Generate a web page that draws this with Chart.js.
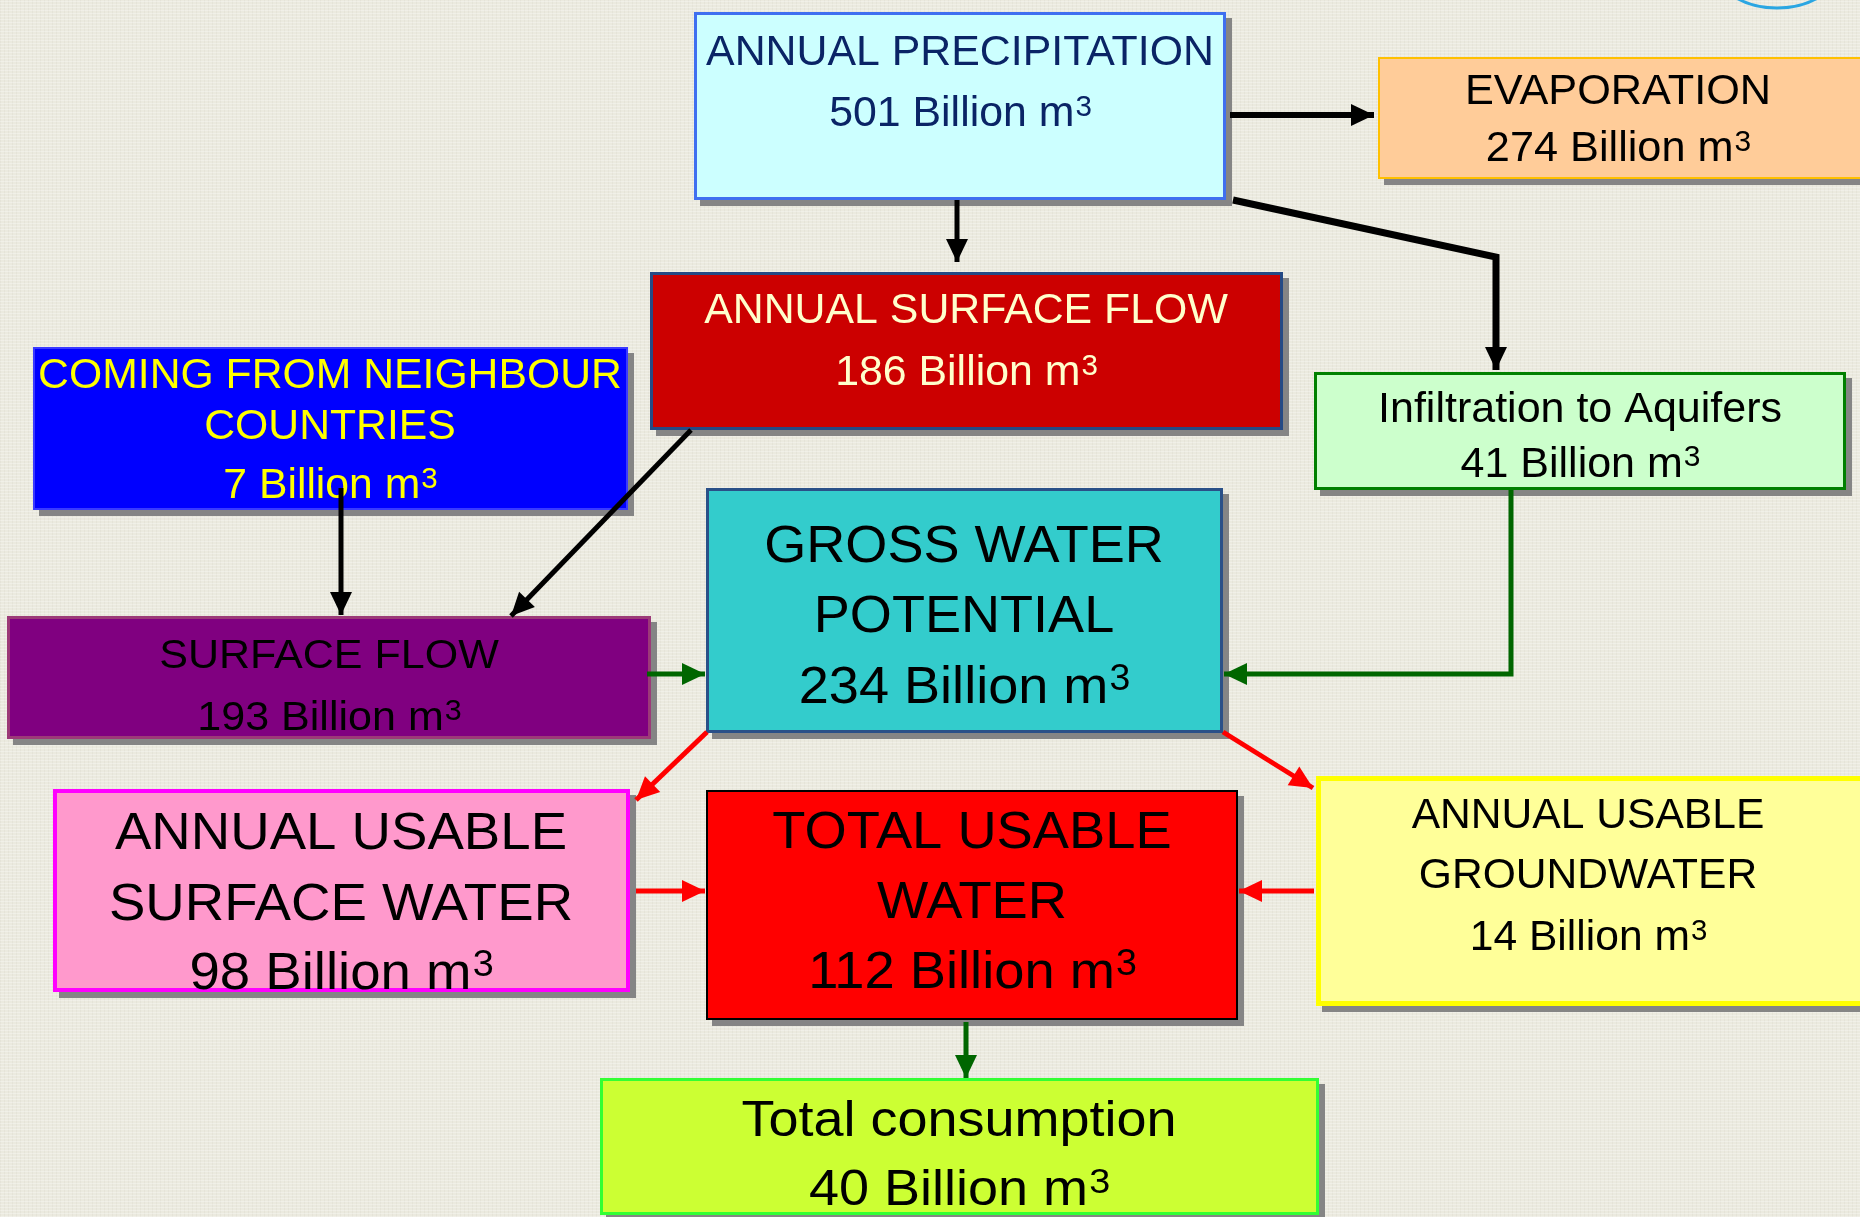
<!DOCTYPE html>
<html>
<head>
<meta charset="utf-8">
<script src="https://cdn.jsdelivr.net/npm/chart.js@4.4.1/dist/chart.umd.min.js"></script>
<style>
  html, body { margin: 0; padding: 0; overflow: hidden; }
  body {
    width: 1860px; height: 1217px;
    background-color: #ebeadf;
    background-image:
      repeating-linear-gradient(0deg, rgba(255,255,255,0.28) 0 1px, transparent 1px 3px),
      repeating-linear-gradient(90deg, rgba(120,110,90,0.05) 0 1px, transparent 1px 4px);
  }
  canvas { display: block; }
</style>
</head>
<body>
<canvas id="flow" width="1860" height="1217"></canvas>
<script>
// water budget values (Billion m3)
const boxLines = [
  ['ANNUAL PRECIPITATION'],
  ['EVAPORATION'],
  ['ANNUAL SURFACE FLOW'],
  ['COMING FROM NEIGHBOUR', 'COUNTRIES'],
  ['Infiltration to Aquifers'],
  ['GROSS WATER', 'POTENTIAL'],
  ['SURFACE FLOW'],
  ['ANNUAL USABLE', 'SURFACE WATER'],
  ['TOTAL USABLE', 'WATER'],
  ['ANNUAL USABLE', 'GROUNDWATER'],
  ['Total consumption']
]
const volumes = [501, 274, 186, 7, 41, 234, 193, 98, 112, 14, 40]
const unitLabel = 'Billion m'
const unitSup = '3'

// which box feeds which
const flowFrom = [0, 0, 0, 2, 3, 6, 4, 5, 5, 7, 9, 8]
const flowTo   = [1, 2, 4, 6, 6, 5, 5, 7, 9, 8, 8, 10]

// layout (canvas units) and styles
const boxRects = [
  [694, 12, 532, 188], [1378, 57, 500, 122], [650, 272, 633, 158],
  [33, 347, 595, 163], [1314, 372, 532, 118], [706, 488, 517, 245],
  [7, 616, 644, 123], [53, 789, 577, 203], [706, 790, 532, 230],
  [1316, 776, 560, 230], [600, 1078, 719, 137]
]
const boxFills = ['#ccffff', '#ffcc99', '#cc0000', '#0000ff', '#ccffcc', '#33cccc',
  '#800080', '#ff99cc', '#ff0000', '#ffff99', '#ccff33']
const boxBorders = ['#3f6ff0', '#ffc000', '#254a85', '#3a3aff', '#008000', '#2a5088',
  '#9c3a78', '#ff00ff', '#000000', '#ffff00', '#33ff33']
const borderWidths = [3, 2, 3, 2, 3, 3, 3, 4, 2, 5, 3]
const textColors = ['#0a2466', '#000000', '#ffffcc', '#ffff00', '#000000', '#000000',
  '#000000', '#000000', '#000000', '#000000', '#000000']
const fontSizes = [42, 42, 42, 42, 43, 52, 41, 52, 52, 42, 50]
const textStretch = [1.02, 1.03, 1.02, 1.017, 1.0, 1.04, 1.05, 1.05, 1.044, 1.014, 1.08]
const textCenters = [960, 1618, 966, 330, 1580, 964, 329, 341, 972, 1588, 959]
const textBaselines = [[65, 126], [104, 161], [323, 385], [388, 439, 498], [422, 477],
  [562, 632, 703], [668, 730], [849, 920, 989], [848, 918, 988], [828, 888, 950], [1136, 1205]]

const flowRoutes = [
  [[1230, 115], [1374, 115]],
  [[957, 200], [957, 262]],
  [[1233, 200], [1496, 257], [1496, 370]],
  [[691, 430], [511, 616]],
  [[341, 488], [341, 615]],
  [[647, 674], [705, 674]],
  [[1511, 490], [1511, 674], [1224, 674]],
  [[707, 732], [636, 800]],
  [[1223, 732], [1313, 788]],
  [[636, 891], [705, 891]],
  [[1314, 891], [1239, 891]],
  [[966, 1022], [966, 1078]]
]
const flowColors = ['#000000', '#000000', '#000000', '#000000', '#000000', '#006600',
  '#006600', '#ff0000', '#ff0000', '#ff0000', '#ff0000', '#006600']
const flowWidths = [6, 5, 7, 5, 5, 5, 5, 5, 5, 5, 5, 5]

const FONT = '"Liberation Sans", Arial, sans-serif'

// text centred on cx, squeezed/stretched horizontally by sx
const drawLine = (ctx, text, cx, baseline, size, sx, withSup) => {
  ctx.font = `${size}px ${FONT}`
  const w1 = ctx.measureText(text).width
  const supSize = Math.round(size * 0.7)
  let w2 = 0
  if (withSup) {
    ctx.font = `${supSize}px ${FONT}`
    w2 = ctx.measureText(unitSup).width
  }
  ctx.save()
  ctx.translate(cx, baseline)
  ctx.scale(sx, 1)
  const start = -(w1 + w2) / 2
  ctx.textAlign = 'left'
  ctx.font = `${size}px ${FONT}`
  ctx.fillText(text, start, 0)
  if (withSup) {
    ctx.font = `${supSize}px ${FONT}`
    ctx.fillText(unitSup, start + w1 + 1, -size * 0.25)
  }
  ctx.restore()
}

const boxesPlugin = {
  id: 'boxes',
  beforeDatasetsDraw(chart) {
    const { ctx, scales: { x, y } } = chart
    ctx.save()
    // small blue arc peeking in at the top right
    ctx.strokeStyle = '#2aa6e2'
    ctx.lineWidth = 3
    ctx.beginPath()
    ctx.ellipse(x.getPixelForValue(1777), y.getPixelForValue(-30), 60, 38, 0, 0, Math.PI)
    ctx.stroke()

    boxRects.forEach((r, i) => {
      const x0 = x.getPixelForValue(r[0])
      const y0 = y.getPixelForValue(r[1])
      const w = x.getPixelForValue(r[0] + r[2]) - x0
      const h = y.getPixelForValue(r[1] + r[3]) - y0
      ctx.fillStyle = '#858585'
      ctx.fillRect(x0 + 6, y0 + 6, w, h)
      ctx.fillStyle = boxFills[i]
      ctx.fillRect(x0, y0, w, h)
      const bw = borderWidths[i]
      ctx.strokeStyle = boxBorders[i]
      ctx.lineWidth = bw
      ctx.strokeRect(x0 + bw / 2, y0 + bw / 2, w - bw, h - bw)

      ctx.fillStyle = textColors[i]
      ctx.textBaseline = 'alphabetic'
      const cx = x.getPixelForValue(textCenters[i])
      const size = fontSizes[i]
      const lines = boxLines[i]
      lines.forEach((line, j) => {
        drawLine(ctx, line, cx, y.getPixelForValue(textBaselines[i][j]), size, textStretch[i], false)
      })
      drawLine(ctx, `${volumes[i]} ${unitLabel}`, cx,
        y.getPixelForValue(textBaselines[i][lines.length]), size, textStretch[i], true)
    })
    ctx.restore()
  },
  afterDatasetsDraw(chart) {
    const { ctx } = chart
    ctx.save()
    chart.data.datasets.forEach((ds, i) => {
      const pts = chart.getDatasetMeta(i).data
      const tip = pts[pts.length - 1]
      const prev = pts[pts.length - 2]
      const ang = Math.atan2(tip.y - prev.y, tip.x - prev.x)
      const len = 23, half = 11
      ctx.fillStyle = ds.borderColor
      ctx.beginPath()
      ctx.moveTo(tip.x, tip.y)
      ctx.lineTo(tip.x - len * Math.cos(ang) + half * Math.sin(ang),
                 tip.y - len * Math.sin(ang) - half * Math.cos(ang))
      ctx.lineTo(tip.x - len * Math.cos(ang) - half * Math.sin(ang),
                 tip.y - len * Math.sin(ang) + half * Math.cos(ang))
      ctx.closePath()
      ctx.fill()
    })
    ctx.restore()
  }
}

const flowChart = new Chart(document.getElementById('flow'), {
  type: 'scatter',
  data: {
    datasets: flowRoutes.map((route, i) => ({
      label: `${boxLines[flowFrom[i]].join(' ')} -> ${boxLines[flowTo[i]].join(' ')}`,
      data: route.map(p => ({ x: p[0], y: p[1] })),
      showLine: true,
      borderColor: flowColors[i],
      backgroundColor: flowColors[i],
      borderWidth: flowWidths[i],
      pointRadius: 0,
      pointHoverRadius: 0,
      tension: 0,
      fill: false,
      clip: false
    }))
  },
  options: {
    responsive: false,
    maintainAspectRatio: false,
    devicePixelRatio: 1,
    animation: false,
    events: [],
    layout: { padding: 0 },
    plugins: {
      legend: { display: false },
      title: { display: false },
      tooltip: { enabled: false }
    },
    scales: {
      x: { type: 'linear', min: 0, max: 1860, display: false },
      y: { type: 'linear', min: 0, max: 1217, reverse: true, display: false }
    }
  },
  plugins: [boxesPlugin]
})
</script>
</body>
</html>
